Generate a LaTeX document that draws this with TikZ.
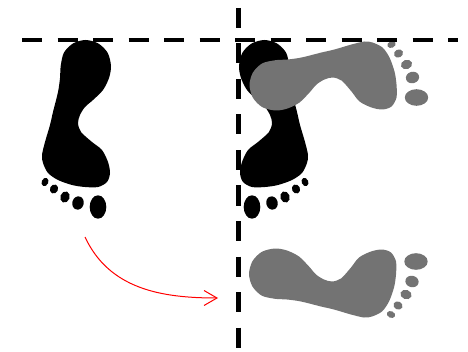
\documentclass[tikz,border=0pt]{standalone}
\usetikzlibrary{arrows.meta}
\definecolor{printgray}{RGB}{115,115,115}
% one footprint, heel top at the origin, toes pointing down
\newcommand{\footprint}{%
  \fill plot[smooth cycle] coordinates {(0,0) (12.7,-3.4) (22.1,-12.7) (25.5,-26)
    (23.5,-38) (17.5,-50) (7.5,-60) (-0.5,-67) (-5.5,-75) (-7.5,-83) (-4.5,-92)
    (6.5,-102) (16.5,-110) (22.5,-122) (24.5,-133) (21.5,-142) (12.5,-147)
    (-0.5,-147) (-13.5,-145) (-27.5,-140) (-37.5,-133) (-42.5,-123) (-43.5,-115)
    (-40.5,-102) (-35.5,-85) (-32.5,-72) (-27.5,-52) (-25.5,-38) (-24.8,-26)
    (-21.6,-12.7) (-12.4,-3.4)};
  \fill[rotate around={-25:(-40.5,-142)}] (-40.5,-142) ellipse (3.3 and 4.3);
  \fill[rotate around={-25:(-31.5,-149)}] (-31.5,-149) ellipse (4 and 4.7);
  \fill[rotate around={-20:(-20.5,-157)}] (-20.5,-157) ellipse (4.7 and 5.7);
  \fill[rotate around={-15:(-7.5,-163)}] (-7.5,-163) ellipse (5.7 and 6.7);
  \fill (12.5,-167) ellipse (8.3 and 11.7);
}
\begin{document}
\begin{tikzpicture}[x=1pt, y=1pt, line join=round, >={Straight Barb[length=13pt,width=15pt]}]
	\useasboundingbox (0,0) rectangle (468,351);
	% black prints, heel up
	\begin{scope}[shift={(85.5,311)}] \footprint \end{scope}
	\begin{scope}[shift={(264.5,311)}, xscale=-1] \footprint \end{scope}
	% grey prints, turned a quarter
	\begin{scope}[shift={(249.5,266)}, rotate=90, xscale=-1, fill=printgray] \footprint \end{scope}
	\begin{scope}[shift={(249,77)}, rotate=90, fill=printgray] \footprint \end{scope}
	% arrow
	\coordinate (from) at (85,114);
	\coordinate (to) at (218,53);
	\draw[->, red, line width=1pt] (from) to[out=-65, in=180] (to);
	% dashed axes
	\draw[dash pattern=on 20pt off 15.5pt, line width=4.5pt] (22,311) -- (458,311);
	\draw[dash pattern=on 20pt off 15.5pt, line width=4.5pt] (238.5,343) -- (238.5,3);
\end{tikzpicture}
\end{document}
